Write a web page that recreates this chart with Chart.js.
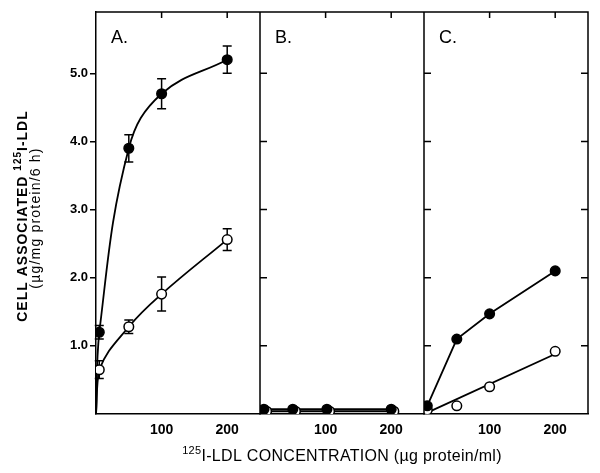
<!DOCTYPE html>
<html>
<head>
<meta charset="utf-8">
<script src="https://cdn.jsdelivr.net/npm/chart.js@4.4.0/dist/chart.umd.min.js"></script>
<style>
  html, body { margin: 0; padding: 0; background: #fff; }
  #wrap { width: 600px; height: 473px; }
</style>
</head>
<body>
<div id="wrap"><canvas id="ldl"></canvas></div>
<script>
// tick values
const xTicks = [100, 200];
const yTicks = [1, 2, 3, 4, 5];

// panel A  (x = LDL concentration, y = cell associated LDL)
const concA = [5, 50, 100, 200];
const aFilled = [1.2, 3.9, 4.7, 5.2];
const aFilledErr = [0.1, 0.2, 0.22, 0.2];
const aOpen = [0.65, 1.28, 1.76, 2.56];
const aOpenErr = [0.13, 0.1, 0.25, 0.16];

// panel B
const concBFilled = [6, 50, 102, 200];
const concBOpen = [10, 54, 106, 204];
const bFilled = [0.07, 0.07, 0.07, 0.07];
const bOpen = [0.04, 0.04, 0.04, 0.04];

// panel C
const concC = [5, 50, 100, 200];
const cFilled = [0.12, 1.1, 1.47, 2.1];
const cOpen = [0.06, 0.12, 0.4, 0.92];
const cOpenFitX = [5, 200];
const cOpenFitY = [0.02, 0.88];

// texts
const panelNames = ['A.', 'B.', 'C.'];
const yTitle1 = [['CELL ASSOCIATED ', false], ['125', true], ['I-LDL', false]];
const yTitle2 = [['(\u00b5g/mg protein/6 h)', false]];
const xTitle = [['125', true], ['I-LDL CONCENTRATION (\u00b5g protein/ml)', false]];

const FONT = 'Liberation Sans, Arial, sans-serif';
const panelIds = ['xA', 'xB', 'xC'];

function pts(xs, ys) {
  return xs.map((x, i) => ({ x: x, y: ys[i] }));
}

function markers(xs, ys, filled, axis, errs) {
  return {
    xAxisID: axis,
    data: pts(xs, ys),
    showLine: false,
    pointRadius: 4.8,
    pointBackgroundColor: filled ? '#000' : '#fff',
    pointBorderColor: '#000',
    pointBorderWidth: 1.5,
    errors: errs,
    order: 0
  };
}

function curve(xs, ys, axis, smooth) {
  return {
    xAxisID: axis,
    data: pts(xs, ys),
    showLine: true,
    pointRadius: 0,
    borderColor: '#000',
    borderWidth: 1.8,
    tension: smooth ? 0.4 : 0,
    fill: false,
    order: 1
  };
}

const datasets = [
  // A: fitted curves start at the origin
  curve([0].concat(concA), [0].concat(aFilled), 'xA', true),
  curve([0].concat(concA), [0].concat(aOpen), 'xA', true),
  markers(concA, aFilled, true, 'xA', aFilledErr),
  markers(concA, aOpen, false, 'xA', aOpenErr),
  // B
  curve(concBFilled, bFilled, 'xB', false),
  curve(concBOpen, bOpen, 'xB', false),
  markers(concBFilled, bFilled, true, 'xB'),
  markers(concBOpen, bOpen, false, 'xB'),
  // C
  curve(concC, cFilled, 'xC', false),
  curve(cOpenFitX, cOpenFitY, 'xC', false),
  markers(concC, cFilled, true, 'xC'),
  markers(concC, cOpen, false, 'xC')
];

function xAxis() {
  return {
    type: 'linear',
    position: 'bottom',
    stack: 'panels',
    stackWeight: 1,
    min: 0,
    max: 250,
    afterBuildTicks: s => { s.ticks = xTicks.map(v => ({ value: v })); },
    afterFit: s => { s.height = 59; },
    grid: { display: false, drawTicks: false },
    border: { display: true, color: '#000', width: 1.5 },
    ticks: {
      color: '#000',
      padding: 8,
      maxRotation: 0,
      font: { family: FONT, weight: 'bold', size: 14 }
    }
  };
}

// draws text runs (with superscripts) centred on 0,0 of the current transform
function drawRuns(ctx, runs, size, weight, spacing) {
  const big = weight + ' ' + size + 'px ' + FONT;
  const small = weight + ' ' + Math.round(size * 0.68) + 'px ' + FONT;
  ctx.letterSpacing = (spacing || 0) + 'px';
  let total = 0;
  runs.forEach(r => { ctx.font = r[1] ? small : big; total += ctx.measureText(r[0]).width; });
  let x = -total / 2;
  ctx.textBaseline = 'alphabetic';
  ctx.textAlign = 'left';
  runs.forEach(r => {
    ctx.font = r[1] ? small : big;
    ctx.fillText(r[0], x, r[1] ? -size * 0.42 : 0);
    x += ctx.measureText(r[0]).width;
  });
  ctx.letterSpacing = '0px';
}

const errorBars = {
  id: 'errorBars',
  beforeDatasetsDraw(chart) {
    const { ctx } = chart;
    const y = chart.scales.y;
    ctx.save();
    ctx.strokeStyle = '#000';
    ctx.lineWidth = 1.5;
    chart.data.datasets.forEach((ds, i) => {
      if (!ds.errors) return;
      const meta = chart.getDatasetMeta(i);
      meta.data.forEach((p, j) => {
        const e = ds.errors[j];
        const v = ds.data[j].y;
        const top = y.getPixelForValue(v + e);
        const bot = y.getPixelForValue(v - e);
        ctx.beginPath();
        ctx.moveTo(p.x, top); ctx.lineTo(p.x, bot);
        ctx.moveTo(p.x - 4.5, top); ctx.lineTo(p.x + 4.5, top);
        ctx.moveTo(p.x - 4.5, bot); ctx.lineTo(p.x + 4.5, bot);
        ctx.stroke();
      });
    });
    ctx.restore();
  }
};

const frame = {
  id: 'frame',
  afterDraw(chart) {
    const { ctx, chartArea: ca, scales } = chart;
    const y = scales.y;
    ctx.save();
    ctx.strokeStyle = '#000';
    ctx.lineWidth = 1.5;
    ctx.beginPath();
    ctx.moveTo(ca.left, ca.top); ctx.lineTo(ca.right, ca.top); ctx.lineTo(ca.right, ca.bottom);
    panelIds.forEach((id, i) => {
      const s = scales[id];
      if (i > 0) {
        ctx.moveTo(s.left, ca.top); ctx.lineTo(s.left, ca.bottom);
        yTicks.forEach(v => {
          const py = y.getPixelForValue(v);
          ctx.moveTo(s.left, py); ctx.lineTo(s.left + 7, py);
        });
      }
      xTicks.forEach(v => {
        const px = s.getPixelForValue(v);
        ctx.moveTo(px, ca.top); ctx.lineTo(px, ca.top + 6);
      });
    });
    yTicks.forEach(v => {
      const py = y.getPixelForValue(v);
      ctx.moveTo(ca.right, py); ctx.lineTo(ca.right - 7, py);
    });
    ctx.stroke();

    // panel letters
    ctx.fillStyle = '#000';
    ctx.font = '18px ' + FONT;
    ctx.textAlign = 'left';
    ctx.textBaseline = 'alphabetic';
    panelIds.forEach((id, i) => {
      ctx.fillText(panelNames[i], scales[id].left + 15, ca.top + 31);
    });

    // axis titles
    ctx.save();
    ctx.translate(27, 216);
    ctx.rotate(-Math.PI / 2);
    drawRuns(ctx, yTitle1, 14, 'bold', 1);
    ctx.restore();
    ctx.save();
    ctx.translate(40, 218);
    ctx.rotate(-Math.PI / 2);
    drawRuns(ctx, yTitle2, 14, 'normal', 1.2);
    ctx.restore();
    ctx.save();
    ctx.translate(342, 461);
    drawRuns(ctx, xTitle, 16, 'normal', 0.3);
    ctx.restore();
    ctx.restore();
  }
};

new Chart(document.getElementById('ldl'), {
  type: 'scatter',
  data: { datasets: datasets },
  options: {
    responsive: true,
    maintainAspectRatio: false,
    animation: false,
    layout: { padding: { top: 12, right: 12, left: 0, bottom: 0 } },
    plugins: { legend: { display: false }, tooltip: { enabled: false } },
    scales: {
      xA: xAxis(),
      xB: xAxis(),
      xC: xAxis(),
      y: {
        type: 'linear',
        position: 'left',
        min: 0,
        max: 5.9,
        afterBuildTicks: s => { s.ticks = yTicks.map(v => ({ value: v })); },
        afterFit: s => { s.width = 96; },
        grid: { drawOnChartArea: false, tickLength: 6, color: '#000', lineWidth: 1.5 },
        border: { display: true, color: '#000', width: 1.5 },
        ticks: {
          color: '#000',
          padding: 2,
          font: { family: FONT, weight: 'bold', size: 13 },
          callback: v => v.toFixed(1)
        }
      }
    }
  },
  plugins: [errorBars, frame]
});
</script>
</body>
</html>
